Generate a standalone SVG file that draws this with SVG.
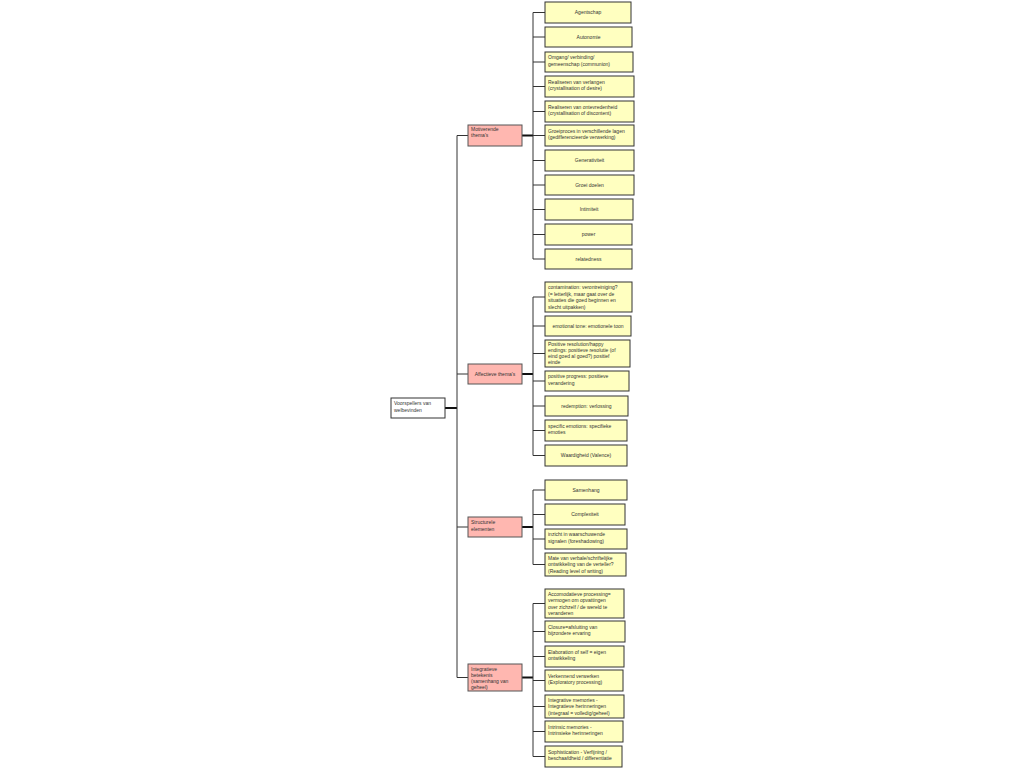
<svg xmlns="http://www.w3.org/2000/svg" width="1024" height="768" viewBox="0 0 1024 768">
<style>
text{font-family:"Liberation Sans",Arial,sans-serif;font-size:5px;fill:#333}
.c{text-anchor:middle}
.leaf{fill:#FFFFC0;stroke:#333;stroke-width:1}
.cat{fill:#FFB7B0;stroke:#555;stroke-width:1}
.root{fill:#fff;stroke:#333;stroke-width:1}
.ln{stroke:#333;stroke-width:1;fill:none}
.th{stroke:#111;stroke-width:2;fill:none}
</style>
<rect width="1024" height="768" fill="#fff"/>
<g id="connectors">
<path class="th" d="M445,408H457"/>
<path class="ln" d="M457,135.5V677.5M457,135.5H468M457,374H468M457,527H468M457,677.5H468"/>
<path class="th" d="M522,135.5H533M522,374H533M522,527H533M522,677.5H533"/>
<path class="ln" d="M533,12.5V259M533,12.5H545M533,37H545M533,62H545M533,86.5H545M533,111.5H545M533,135.5H545M533,160.5H545M533,185H545M533,209.5H545M533,234.5H545M533,259H545"/>
<path class="ln" d="M533,297V455.5M533,297H545M533,326H545M533,353.5H545M533,381H545M533,406H545M533,430.5H545M533,455.5H545"/>
<path class="ln" d="M533,490V564.5M533,490H545M533,514.5H545M533,539H545M533,564.5H545"/>
<path class="ln" d="M533,603.5V756.5M533,603.5H545M533,631.5H545M533,656.5H545M533,680.5H545M533,706.5H545M533,731.5H545M533,756.5H545"/>
</g>
<g id="root"><rect class="root" x="391" y="398" width="54" height="20"/><text x="394" y="405">Voorspellers van</text><text x="394" y="411.5">welbevinden</text></g>
<g id="cat-motiverende"><rect class="cat" x="468" y="125" width="54" height="21"/><text x="471" y="131">Motiverende</text><text x="471" y="137">thema's</text></g>
<g id="cat-affectieve"><rect class="cat" x="468" y="364" width="54" height="20"/><text class="c" x="495" y="375.8">Affectieve thema's</text></g>
<g id="cat-structurele"><rect class="cat" x="468" y="517" width="54" height="20"/><text x="471" y="524">Structurele</text><text x="471" y="530.5">elementen</text></g>
<g id="cat-integratieve"><rect class="cat" x="468" y="664" width="54" height="27"/><text x="471" y="670.5">Integratieve</text><text x="471" y="676.5">betekenis</text><text x="471" y="682.5">(samenhang van</text><text x="471" y="688.5">geheel)</text></g>

<g id="m1"><rect class="leaf" x="545" y="2" width="86" height="21"/><text class="c" x="588" y="14.3">Agentschap</text></g>
<g id="m2"><rect class="leaf" x="545" y="27" width="87" height="20"/><text class="c" x="588.5" y="38.8">Autonomie</text></g>
<g id="m3"><rect class="leaf" x="545" y="52" width="88" height="20"/><text x="548" y="59">Omgang/ verbinding/</text><text x="548" y="65.5">gemeenschap (communion)</text></g>
<g id="m4"><rect class="leaf" x="545" y="76" width="89" height="21"/><text x="548" y="83.5">Realiseren van verlangen</text><text x="548" y="90">(crystallisation of desire)</text></g>
<g id="m5"><rect class="leaf" x="545" y="101" width="89" height="21"/><text x="548" y="108.5">Realiseren van ontevredenheid</text><text x="548" y="115">(crystallisation of discontent)</text></g>
<g id="m6"><rect class="leaf" x="545" y="125" width="89" height="21"/><text x="548" y="132.5">Groeiproces in verschillende lagen</text><text x="548" y="139">(gedifferencieerde verwerking)</text></g>
<g id="m7"><rect class="leaf" x="545" y="150" width="89" height="21"/><text class="c" x="589.5" y="162.3">Generativiteit</text></g>
<g id="m8"><rect class="leaf" x="545" y="175" width="89" height="20"/><text class="c" x="589.5" y="186.8">Groei doelen</text></g>
<g id="m9"><rect class="leaf" x="545" y="199" width="88" height="21"/><text class="c" x="589" y="211.3">Intimiteit</text></g>
<g id="m10"><rect class="leaf" x="545" y="224" width="87" height="21"/><text class="c" x="588.5" y="236.3">power</text></g>
<g id="m11"><rect class="leaf" x="545" y="249" width="87" height="20"/><text class="c" x="588.5" y="260.8">relatedness</text></g>

<g id="a1"><rect class="leaf" x="545" y="282" width="87" height="30"/><text x="548" y="289">contamination: verontreiniging?</text><text x="548" y="295.5">(= letterlijk, maar gaat over de</text><text x="548" y="302">situaties die goed beginnen en</text><text x="548" y="308.5">slecht uitpakken)</text></g>
<g id="a2"><rect class="leaf" x="545" y="316" width="86" height="20"/><text class="c" x="588" y="327.8">emotional tone: emotionele toon</text></g>
<g id="a3"><rect class="leaf" x="545" y="340" width="85" height="27"/><text x="548" y="346">Positive resolution/happy</text><text x="548" y="352">endings: positieve resolutie (of</text><text x="548" y="358">eind goed al goed?) positief</text><text x="548" y="364">einde</text></g>
<g id="a4"><rect class="leaf" x="545" y="371" width="84" height="20"/><text x="548" y="378">positive progress: positieve</text><text x="548" y="384.5">verandering</text></g>
<g id="a5"><rect class="leaf" x="545" y="396" width="83" height="20"/><text class="c" x="586.5" y="407.8">redemption: verlossing</text></g>
<g id="a6"><rect class="leaf" x="545" y="420" width="82" height="21"/><text x="548" y="427.5">specific emotions: specifieke</text><text x="548" y="434">emoties</text></g>
<g id="a7"><rect class="leaf" x="545" y="445" width="82" height="21"/><text class="c" x="586" y="457.3">Waardigheid (Valence)</text></g>

<g id="s1"><rect class="leaf" x="545" y="480" width="82" height="20"/><text class="c" x="586" y="491.8">Samenhang</text></g>
<g id="s2"><rect class="leaf" x="545" y="504" width="80" height="21"/><text class="c" x="585" y="516.3">Complexiteit</text></g>
<g id="s3"><rect class="leaf" x="545" y="529" width="82" height="20"/><text x="548" y="536">inzicht in waarschuwende</text><text x="548" y="542.5">signalen (foreshadowing)</text></g>
<g id="s4"><rect class="leaf" x="545" y="553" width="81" height="23"/><text x="548" y="559.5">Mate van verbale/schriftelijke</text><text x="548" y="566">ontwikkeling van de verteller?</text><text x="548" y="572.5">(Reading level of writing)</text></g>

<g id="i1"><rect class="leaf" x="545" y="589" width="79" height="29"/><text x="548" y="595.5">Accomodatieve processing=</text><text x="548" y="602">vermogen om opvattingen</text><text x="548" y="608.5">over zichzelf / de wereld te</text><text x="548" y="615">veranderen</text></g>
<g id="i2"><rect class="leaf" x="545" y="621" width="80" height="21"/><text x="548" y="628.5">Closure=afsluiting van</text><text x="548" y="635">bijzondere ervaring</text></g>
<g id="i3"><rect class="leaf" x="545" y="646" width="79" height="21"/><text x="548" y="653.5">Elaboration of self = eigen</text><text x="548" y="660">ontwikkeling</text></g>
<g id="i4"><rect class="leaf" x="545" y="670" width="78" height="21"/><text x="548" y="677.5">Verkennend verwerken</text><text x="548" y="684">(Exploratory processing)</text></g>
<g id="i5"><rect class="leaf" x="545" y="695" width="79" height="23"/><text x="548" y="701.5">Integrative memories -</text><text x="548" y="708">Integratieve herinneringen</text><text x="548" y="714.5">(integraal = volledig/geheel)</text></g>
<g id="i6"><rect class="leaf" x="545" y="721" width="78" height="21"/><text x="548" y="728.5">Intrinsic memories -</text><text x="548" y="735">Intrinsieke herinneringen</text></g>
<g id="i7"><rect class="leaf" x="545" y="746" width="77" height="21"/><text x="548" y="753.5">Sophistication - Verfijning /</text><text x="548" y="760">beschaafdheid / differentiatie</text></g>
</svg>
